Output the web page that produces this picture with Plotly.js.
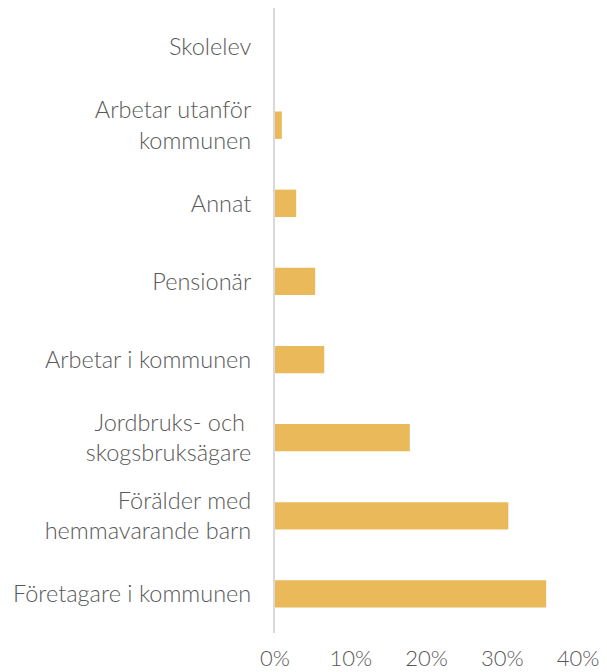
<!DOCTYPE html>
<html><head><meta charset="utf-8">
<script src="https://cdn.plot.ly/plotly-3.0.1.min.js"></script>
<style>html,body{margin:0;padding:0;background:#fff}#chart{width:607px;height:672px}</style>
</head><body><div id="chart"></div>
<script>
var categories = ["Företagare i kommunen","Förälder med<br>hemmavarande barn","Jordbruks- och <br>skogsbruksägare","Arbetar i kommunen","Pensionär","Annat","Arbetar utanför<br>kommunen","Skolelev"];
var values = [0.358, 0.308, 0.178, 0.065, 0.053, 0.028, 0.009, 0];
var xTicks = [0, 0.1, 0.2, 0.3, 0.4];
var xTickText = ["0%","10%","20%","30%","40%"];

var font = {family: "Lato, 'Open Sans', sans-serif", size: 23.5, color: "#595959", weight: 300};
var xfont = {family: "Lato, 'Open Sans', sans-serif", size: 22, color: "#595959", weight: 300};
Plotly.newPlot("chart", [{
  type: "bar", orientation: "h", y: categories, x: values,
  marker: {color: "#E9B95A"}, hoverinfo: "none"
}], {
  width: 607, height: 672,
  margin: {l: 275, r: 29, t: 8, b: 39},
  paper_bgcolor: "#fff", plot_bgcolor: "#fff",
  bargap: 0.65,
  showlegend: false,
  font: font,
  xaxis: {range: [0, 0.4], tickvals: xTicks, ticktext: xTickText, showgrid: false, zeroline: false, showline: false, ticks: "", tickfont: xfont, ticklabelstandoff: 10},
  yaxis: {type: "category", categoryorder: "array", categoryarray: categories, showgrid: false, zeroline: false, showline: true, linecolor: "#d9d9d9", linewidth: 2, ticks: "", tickfont: font, ticklabelstandoff: 17}
}, {displayModeBar: false, staticPlot: true});
</script></body></html>
